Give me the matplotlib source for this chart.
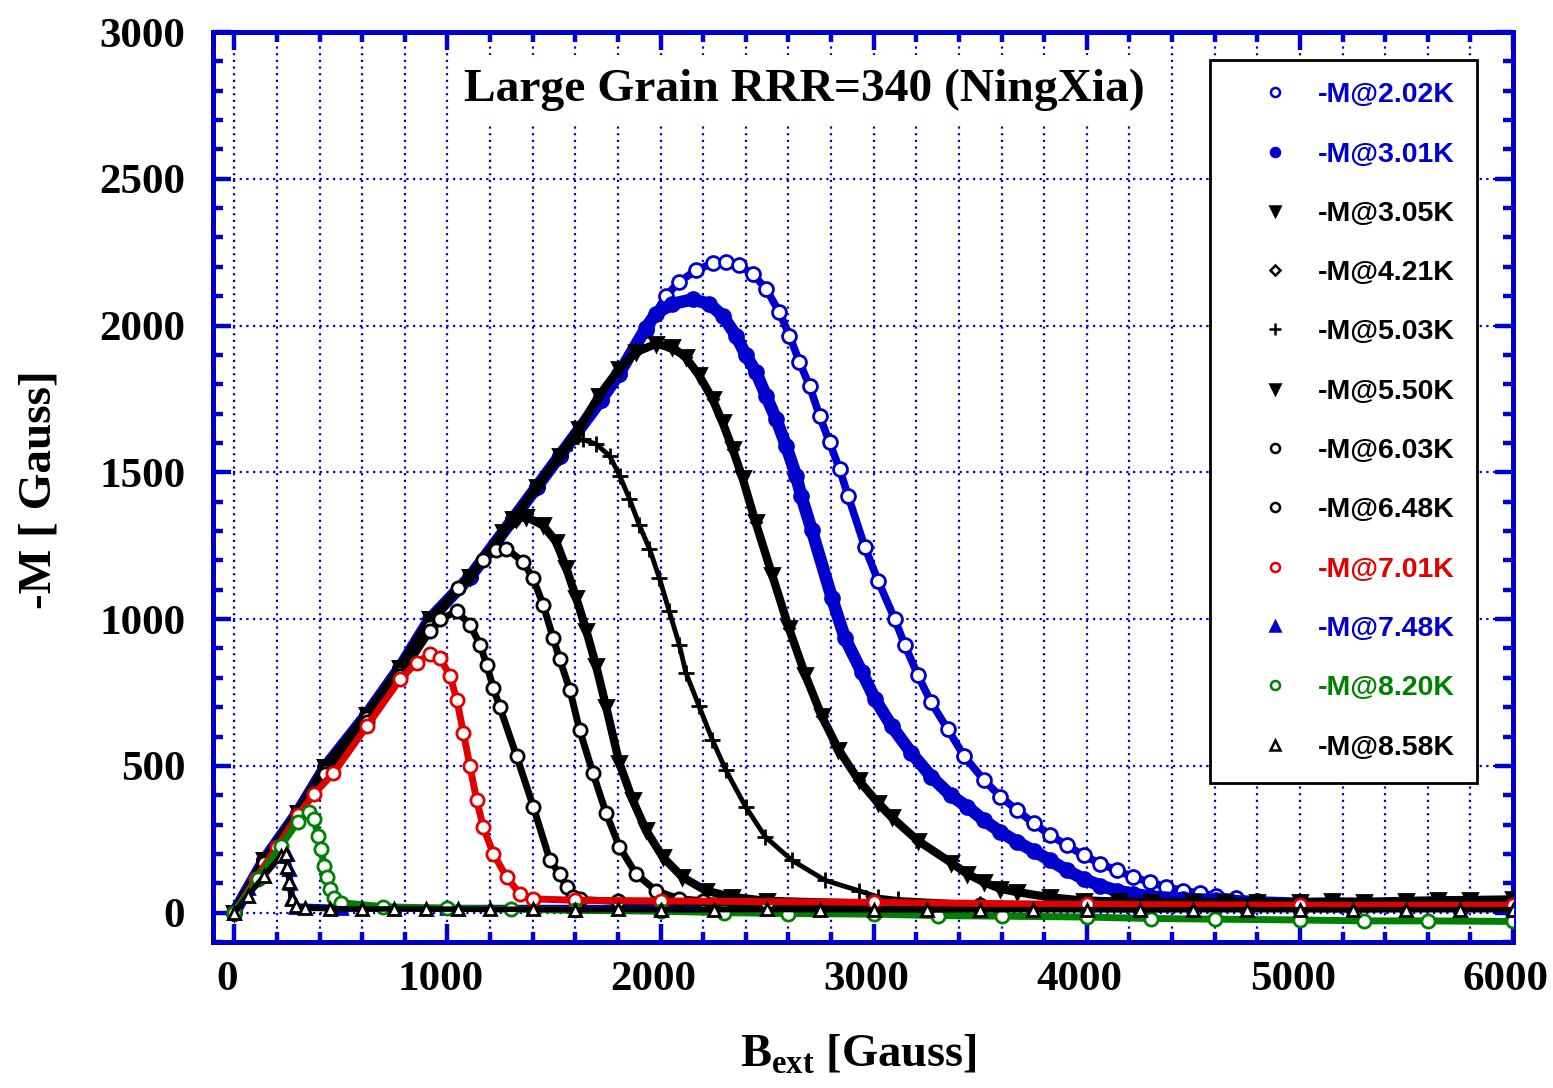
import matplotlib
matplotlib.use("Agg")
import matplotlib.pyplot as plt
import matplotlib.transforms as mtransforms
from matplotlib.ticker import MultipleLocator
from matplotlib.lines import Line2D

# ---------------- data ----------------
b_202 = [0, 140, 297, 426, 622, 778, 918, 1106, 1309, 1418, 1527, 1722, 1805, 1930, 2024, 2087, 2165, 2244, 2307, 2369,
         2432, 2495, 2558, 2605, 2652, 2699, 2746, 2793, 2840, 2880, 2959, 3021, 3099, 3146, 3208, 3270, 3348, 3426, 3517, 3595,
         3673, 3751, 3829, 3907, 3985, 4063, 4141, 4218, 4296, 4374, 4452, 4530, 4608, 4702, 4800, 5000, 5500, 6000]
m_202 = [0, 178, 340, 495, 675, 835, 1000, 1144, 1342, 1449, 1556, 1748, 1835, 1985, 2100, 2148, 2188, 2212, 2216, 2205,
         2176, 2125, 2045, 1966, 1875, 1795, 1693, 1602, 1511, 1420, 1245, 1130, 1000, 912, 808, 716, 624, 532, 452, 395,
         349, 304, 264, 229, 195, 167, 144, 121, 104, 87, 75, 66, 58, 49, 40, 30, 25, 25]

b_301 = [0, 140, 297, 426, 622, 778, 918, 1106, 1309, 1418, 1527, 1722, 1805, 1930, 1977, 2056, 2150, 2228, 2291, 2354,
         2401, 2448, 2495, 2542, 2589, 2636, 2660, 2710, 2804, 2866, 2944, 3006, 3084, 3177, 3271, 3361, 3439, 3517, 3595, 3673,
         3751, 3829, 3907, 3985, 4063, 4141, 4218, 4296, 4452, 4608, 4800, 5000, 5500, 6000]
m_301 = [0, 178, 340, 495, 675, 835, 1000, 1144, 1342, 1449, 1556, 1748, 1835, 1990, 2040, 2074, 2089, 2074, 2034, 1966,
         1898, 1841, 1761, 1682, 1591, 1489, 1420, 1302, 1072, 934, 820, 728, 636, 544, 463, 400, 361, 315, 275, 241,
         210, 178, 144, 115, 92, 75, 64, 55, 47, 43, 35, 30, 28, 28]

b_305 = [0, 140, 297, 426, 622, 778, 918, 1106, 1309, 1418, 1527, 1616, 1711, 1805, 1883, 1977, 2056, 2118, 2181, 2244,
         2291, 2338, 2385, 2446, 2524, 2602, 2679, 2757, 2835, 2929, 3022, 3084, 3208, 3364, 3439, 3517, 3595, 3673, 3829,
         3985, 4150, 4300, 4500, 4650, 4800, 5000, 5150, 5300, 5500, 5650, 5800, 6000]
m_305 = [0, 178, 340, 495, 675, 835, 1000, 1144, 1342, 1449, 1556, 1648, 1761, 1852, 1909, 1937, 1926, 1892, 1830, 1750,
         1670, 1580, 1480, 1330, 1150, 970, 810, 669, 555, 452, 372, 325, 245, 170, 132, 104, 81, 70, 52,
         41, 38, 36, 35, 36, 35, 35, 38, 37, 40, 42, 43, 45]

b_421 = [0, 297, 622, 918, 1309, 1527, 1711, 1883, 1977, 2118, 2244, 2338, 2446, 2602, 2757, 2929, 3208, 3517, 3829, 4500, 6000]
m_421 = [0, 340, 675, 1000, 1342, 1556, 1761, 1909, 1937, 1892, 1750, 1580, 1330, 970, 669, 452, 245, 104, 52, 35, 40]

b_503 = [0, 140, 297, 426, 622, 778, 918, 1106, 1309, 1418, 1527, 1580, 1636, 1698, 1761, 1808, 1854, 1901, 1948, 1995,
         2041, 2088, 2119, 2181, 2243, 2306, 2399, 2492, 2617, 2773, 2929, 3022, 3115, 3500, 4000, 5000, 6000]
m_503 = [0, 178, 340, 495, 675, 835, 1000, 1144, 1342, 1449, 1556, 1600, 1612, 1596, 1556, 1489, 1410, 1319, 1240, 1139,
         1026, 913, 817, 703, 589, 486, 361, 258, 178, 110, 75, 53, 45, 30, 20, 15, 15]

b_550 = [0, 140, 297, 426, 622, 778, 918, 1106, 1262, 1320, 1371, 1449, 1511, 1558, 1605, 1652, 1698, 1745, 1807, 1869,
         1932, 2010, 2103, 2212, 2337, 2500, 3000, 4000, 5000, 6000]
m_550 = [0, 178, 340, 495, 675, 835, 1000, 1144, 1297, 1340, 1348, 1319, 1263, 1173, 1071, 960, 840, 700, 509, 384,
         281, 190, 121, 75, 53, 40, 30, 20, 20, 20]

b_603 = [0, 140, 297, 426, 622, 778, 918, 1050, 1168, 1230, 1277, 1355, 1402, 1449, 1496, 1527, 1574, 1620, 1683, 1745,
         1807, 1885, 1978, 2088, 2197, 2500, 3000, 4000, 5000, 6000]
m_603 = [0, 172, 332, 482, 662, 818, 972, 1105, 1200, 1235, 1240, 1195, 1139, 1049, 936, 863, 760, 623, 475, 338,
         224, 132, 75, 47, 41, 35, 30, 25, 20, 20]

b_648 = [0, 140, 297, 426, 622, 778, 918, 966, 1044, 1106, 1153, 1184, 1215, 1246, 1325, 1403, 1481, 1527, 1559, 1589,
         1621, 1800, 2500, 3500, 5000, 6000]
m_648 = [0, 168, 325, 472, 650, 805, 958, 1000, 1026, 981, 913, 845, 766, 700, 532, 361, 178, 132, 87, 53,
         45, 38, 30, 25, 20, 20]

b_701 = [0, 100, 200, 297, 375, 465, 622, 778, 856, 918, 965, 1012, 1044, 1075, 1106, 1137, 1168, 1215, 1278, 1340,
         1403, 1600, 2000, 3000, 4000, 5000, 6000]
m_701 = [0, 115, 224, 331, 405, 475, 635, 795, 852, 880, 869, 806, 726, 612, 498, 384, 292, 201, 121, 64,
         47, 42, 40, 35, 28, 25, 25]

b_748 = [0, 62, 120, 160, 200, 245, 255, 262, 270, 290, 500, 1000, 2000, 4000, 6000]
m_748 = [0, 85, 160, 205, 230, 200, 150, 100, 50, 20, 15, 15, 15, 15, 15]

b_820 = [0, 109, 219, 297, 352, 375, 391, 406, 422, 437, 450, 469, 500, 700, 1000, 1300, 1600, 2000, 2300, 2600,
         3000, 3300, 3600, 4000, 4300, 4600, 5000, 5300, 5600, 6000]
m_820 = [0, 114, 228, 308, 342, 320, 262, 217, 160, 120, 80, 51, 34, 20, 15, 12, 8, 5, 0, -3,
         -5, -10, -12, -15, -20, -22, -25, -28, -28, -30]

b_858 = [0, 62, 140, 219, 242, 247, 258, 269, 290, 330, 450, 600, 750, 900, 1050, 1200, 1400, 1600, 1800, 2000,
         2250, 2500, 2750, 3000, 3250, 3500, 3750, 4000, 4250, 4500, 4750, 5000, 5250, 5500, 5750, 6000]
m_858 = [0, 57, 125, 194, 200, 155, 103, 46, 23, 15, 14, 12, 13, 12, 12, 11, 12, 10, 11, 10,
         10, 11, 10, 10, 9, 10, 10, 10, 9, 10, 10, 10, 9, 10, 10, 10]

labels = ["-M@2.02K", "-M@3.01K", "-M@3.05K", "-M@4.21K", "-M@5.03K", "-M@5.50K",
          "-M@6.03K", "-M@6.48K", "-M@7.01K", "-M@7.48K", "-M@8.20K", "-M@8.58K"]
xs = [b_202, b_301, b_305, b_421, b_503, b_550, b_603, b_648, b_701, b_748, b_820, b_858]
ys = [m_202, m_301, m_305, m_421, m_503, m_550, m_603, m_648, m_701, m_748, m_820, m_858]

BLUE = "#0000CC"
RED = "#E00000"
GREEN = "#008000"
BLACK = "#000000"
colors = [BLUE, BLUE, BLACK, BLACK, BLACK, BLACK, BLACK, BLACK, RED, BLUE, GREEN, BLACK]
markers = ["o", "o", "v", "D", "+", "v", "o", "o", "o", "^", "o", "^"]
filled = [False, True, True, False, True, True, False, False, False, True, False, False]
zord = [3, 4, 5, 2, 6, 7, 8, 9, 10, 1, 11, 12]
# line width / marker size per series (visual band thickness)
lws = [5.5, 9.0, 6.0, 3.0, 3.5, 6.0, 5.0, 5.0, 5.0, 5.0, 5.0, 4.0]
mss = [10.0, 10.0, 10.0, 5.0, 12.0, 10.0, 9.5, 9.5, 9.5, 9.0, 9.5, 9.0]

# ---------------- figure ----------------
W, H = 1553, 1088
fig = plt.figure(figsize=(W / 100, H / 100), dpi=100)
ax = fig.add_axes([213 / W, 1 - 942 / H, (1513 - 213) / W, (942 - 32) / H])

for x, y, c, mk, f, z, lw, ms in zip(xs, ys, colors, markers, filled, zord, lws, mss):
    ax.plot(x, y, color=c, lw=lw, marker=mk, ms=ms, solid_joinstyle="round",
            mfc=(c if f else "white"), mec=c, mew=2.0, zorder=z)

ax.set_xlim(-100, 6000)
ax.set_ylim(-100, 3000)
ax.xaxis.set_major_locator(MultipleLocator(1000))
ax.xaxis.set_minor_locator(MultipleLocator(200))
ax.yaxis.set_major_locator(MultipleLocator(500))
ax.yaxis.set_minor_locator(MultipleLocator(100))

ax.grid(True, which="major", axis="y", color=BLUE, ls=(0, (1, 2)), lw=1.6, zorder=0)
ax.grid(True, which="both", axis="x", color=BLUE, ls=(0, (1, 2)), lw=1.6, zorder=0)
ax.set_axisbelow(True)

for s in ax.spines.values():
    s.set_color(BLUE)
    s.set_linewidth(3.6)

ax.tick_params(which="both", direction="in", top=True, right=True, color=BLUE)
ax.tick_params(which="major", length=13, width=3.2)
ax.tick_params(which="minor", length=7, width=3.2)
ax.tick_params(axis="x", which="major", pad=14)
ax.tick_params(axis="y", which="major", pad=20)

shift = mtransforms.ScaledTranslation(-7 / 100, 0, fig.dpi_scale_trans)
for lab in ax.get_xticklabels():
    lab.set_transform(lab.get_transform() + shift)
for lab in ax.get_xticklabels() + ax.get_yticklabels():
    lab.set_fontfamily("Liberation Serif")
    lab.set_fontweight("bold")
    lab.set_fontsize(31)

plt.rcParams["mathtext.fontset"] = "custom"
plt.rcParams["mathtext.rm"] = "Liberation Serif:bold"
plt.rcParams["mathtext.bf"] = "Liberation Serif:bold"

fig.text(858 / W, 1 - 1055 / H, r"B$_{\mathrm{ext}}$ [Gauss]", ha="center", va="center",
         family="Liberation Serif", weight="bold", fontsize=33.5)
fig.text(40 / W, 1 - 490 / H, "-M [ Gauss]", ha="center", va="center", rotation=90,
         family="Liberation Serif", weight="bold", fontsize=34)

fig.text(804 / W, 1 - 101 / H, "Large Grain RRR=340 (NingXia)", ha="center", va="baseline",
         family="Liberation Serif", weight="bold", fontsize=34.2, zorder=20,
         bbox=dict(facecolor="white", edgecolor="none", pad=10))

handles = []
for c, mk, f in zip(colors, markers, filled):
    hs = 6.5 if mk not in ("D", "+") else (4.8 if mk == "D" else 9)
    handles.append(Line2D([], [], ls="none", marker=mk, ms=hs, color=c,
                          mfc=(c if f else "white"), mec=c, mew=1.8))
leg = ax.legend(handles, labels, loc="upper left",
                bbox_to_anchor=(1210 / W, 1 - 60 / H), bbox_transform=fig.transFigure,
                prop={"family": "Liberation Sans", "weight": "bold", "size": 20.5},
                frameon=True, fancybox=False, framealpha=1, edgecolor="black",
                borderpad=0.78, labelspacing=1.17, handlelength=3.0, handletextpad=0.0,
                numpoints=1, borderaxespad=0)
leg.get_frame().set_linewidth(2)
leg.set_zorder(30)
for t, c in zip(leg.get_texts(), colors):
    t.set_color(c)

fig.savefig("out.png", dpi=100)
